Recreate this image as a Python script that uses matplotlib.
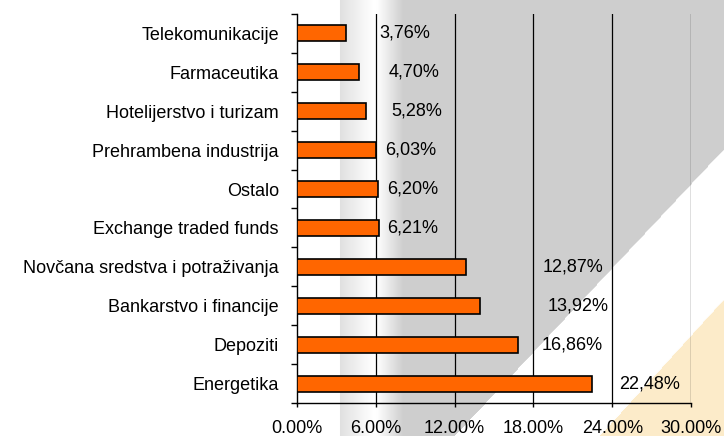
import matplotlib

matplotlib.use("Agg")
import matplotlib.pyplot as plt
import numpy as np
from matplotlib.ticker import FixedLocator, FuncFormatter

plt.rcParams["font.family"] = ["Liberation Sans", "DejaVu Sans"]

# data (top to bottom as shown)
categories = [
    "Telekomunikacije",
    "Farmaceutika",
    "Hotelijerstvo i turizam",
    "Prehrambena industrija",
    "Ostalo",
    "Exchange traded funds",
    "Novčana sredstva i potraživanja",
    "Bankarstvo i financije",
    "Depoziti",
    "Energetika",
]
values = [3.76, 4.70, 5.28, 6.03, 6.20, 6.21, 12.87, 13.92, 16.86, 22.48]
value_labels = ["3,76%", "4,70%", "5,28%", "6,03%", "6,20%", "6,21%",
                "12,87%", "13,92%", "16,86%", "22,48%"]
x_ticks = [0, 6, 12, 18, 24, 30]

# label placement (left edge of each label, in axis units)
label_x = [6.24, 7.00, 7.16, 6.70, 6.85, 6.85, 18.73, 19.11, 18.65, 24.52]

W, H = 724, 436
fig = plt.figure(figsize=(W / 100, H / 100), dpi=100)

# slide-like background
bg = fig.add_axes([0, 0, 1, 1], zorder=-1)
xx, yy = np.meshgrid(np.arange(W) + 0.5, np.arange(H) + 0.5)
img = np.ones((H, W, 3))
strip = (xx >= 340) & (xx < 373)
v = 0.88 + (xx - 340) / 33 * 0.12
img[strip] = v[strip][:, None]
edge = 150 + (724 - xx) * 1.063
band = (xx >= 377) & (yy < edge)
ramp = np.clip((xx - 377) / 26, 0, 1)
v2 = 1 - (1 - 0.81) * ramp
img[band] = v2[band][:, None]
edge2 = 300 + (724 - xx) * 1.097
tri = yy > edge2
img[tri] = [0.992, 0.922, 0.792]
bg.imshow(img, extent=(0, W, H, 0), aspect="auto", interpolation="bilinear")
bg.set_xlim(0, W)
bg.set_ylim(H, 0)
bg.axis("off")

ax = fig.add_axes([297 / W, 1 - 403 / H, (691 - 297) / W, (403 - 14) / H])
ax.patch.set_alpha(0)

n = len(categories)
y = np.arange(n)
ax.barh(y, values, height=0.41, color="#ff6600", edgecolor="black",
        linewidth=1.2, zorder=3)
for yi, lx, lab in zip(y, label_x, value_labels):
    ax.text(lx, yi, lab, ha="left", va="center", fontsize=13, zorder=4)

ax.set_xlim(0, 30)
ax.set_ylim(n - 0.5, -0.5)
ax.set_xticks(x_ticks)
ax.xaxis.set_major_formatter(FuncFormatter(lambda v, p: f"{v:.2f}%"))
ax.tick_params(axis="x", length=3, width=1, pad=9, labelsize=13, direction="out")
for xt in x_ticks[1:]:
    ax.axvline(xt, color="black", linewidth=0.9, zorder=2)

ax.set_yticks(y)
ax.set_yticklabels(categories)
ax.yaxis.set_minor_locator(FixedLocator(np.arange(n + 1) - 0.5))
ax.tick_params(axis="y", which="major", length=0, pad=13, labelsize=13)
ax.tick_params(axis="y", which="minor", length=4, width=1, direction="out")

for s in ["top", "right"]:
    ax.spines[s].set_visible(False)
for s in ["left", "bottom"]:
    ax.spines[s].set_linewidth(1)
    ax.spines[s].set_color("black")

fig.savefig("out.png", dpi=100)
